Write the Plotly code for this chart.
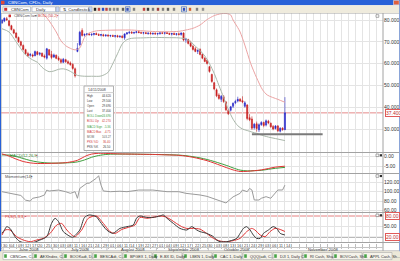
import plotly.graph_objects as go

W, H = 400, 261

# ---------------- data ----------------
bar_index = list(range(121))
opens = [78.6, 79.5, 80.6, 79.6, 77.4, 75.5, 74.0, 72.0, 70.0, 68.3,
         66.4, 64.6, 63.8, 64.0, 63.6, 65.4, 64.3, 64.8, 63.5, 62.5,
         66.4, 64.2, 63.0, 63.8, 62.6, 61.8, 60.6, 61.8, 60.9, 60.3,
         59.6, 57.6, 65.6, 68.6, 75.2, 73.0,
         73.4, 73.6, 73.2, 73.4, 73.8, 73.3, 73.0, 73.2, 72.8, 73.0,
         72.7, 72.9, 72.5, 72.8, 72.3, 72.6, 71.8, 73.6, 74.1, 74.4,
         74.0, 74.3, 74.6, 74.2, 74.0, 74.2, 73.8, 74.0, 73.7, 73.9,
         73.6, 73.8, 74.1, 73.9, 74.2, 73.8, 73.5, 73.8, 73.4, 73.7, 73.3,
         74.0, 70.8, 71.0, 69.3, 68.0, 66.8, 65.6, 66.5, 64.2, 62.4,
         61.5, 58.6, 55.0, 51.2, 48.0, 45.6, 43.6, 44.8, 42.4, 38.6,
         38.6, 40.4, 42.0, 42.8, 43.6, 43.0, 40.4, 41.0, 35.2, 34.6,
         30.6, 32.4, 29.6, 32.0, 33.0, 31.8, 33.6, 32.6, 31.2, 30.2,
         31.4, 29.0, 30.4, 29.69]
highs = [80.4, 81.2, 81.4, 80.0, 77.8, 76.0, 74.4, 72.4, 70.5, 68.8,
         66.8, 65.4, 64.8, 64.6, 66.0, 65.8, 65.3, 65.0, 64.2, 67.2,
         66.6, 65.8, 64.6, 64.2, 63.4, 62.4, 62.6, 62.2, 61.6, 61.0,
         60.2, 58.2, 69.4, 75.0, 76.2, 73.8,
         74.0, 74.2, 73.8, 74.0, 74.3, 73.9, 73.6, 73.7, 73.4, 73.5,
         73.2, 73.3, 73.1, 73.2, 72.9, 73.0, 73.9, 74.4, 74.8, 74.9,
         74.6, 74.9, 75.0, 74.7, 74.5, 74.6, 74.3, 74.5, 74.2, 74.4,
         74.1, 74.3, 74.6, 74.4, 74.6, 74.2, 74.0, 74.3, 73.9, 74.2, 74.4,
         74.4, 71.8, 71.4, 70.5, 68.4, 67.6, 66.6, 67.0, 64.6, 63.0,
         61.8, 59.0, 55.4, 51.6, 48.6, 46.4, 45.6, 45.6, 42.8, 39.2,
         40.6, 42.2, 43.4, 44.8, 44.2, 45.0, 42.8, 41.4, 36.8, 35.8,
         32.8, 33.4, 32.6, 33.6, 33.4, 34.4, 34.2, 33.0, 31.8, 31.8,
         31.8, 30.8, 30.8, 44.62]
lows = [78.2, 79.0, 79.6, 77.0, 75.2, 73.5, 71.5, 69.5, 67.8, 66.0,
        64.0, 63.0, 63.2, 62.8, 63.4, 63.8, 63.6, 63.0, 62.4, 61.8,
        63.5, 62.0, 62.6, 62.0, 61.2, 60.0, 60.2, 60.4, 59.6, 59.0,
        57.2, 53.6, 65.2, 68.2, 72.4, 72.4,
        72.8, 73.0, 72.6, 72.9, 73.1, 72.7, 72.5, 72.4, 72.3, 72.4,
        72.1, 72.2, 71.9, 72.0, 71.8, 71.6, 70.9, 73.2, 73.6, 73.8,
        73.5, 73.9, 74.0, 73.6, 73.4, 73.5, 73.2, 73.4, 73.1, 73.3,
        73.0, 73.2, 73.5, 73.3, 73.6, 73.1, 72.9, 73.2, 72.8, 73.0, 72.8,
        70.2, 69.6, 68.8, 67.5, 66.0, 65.2, 64.4, 63.8, 62.0, 60.6,
        59.6, 55.8, 51.2, 47.8, 44.6, 43.4, 42.4, 42.0, 38.2, 36.4,
        38.0, 39.6, 41.4, 42.2, 42.4, 41.8, 39.8, 34.0, 33.6, 29.6,
        29.8, 28.8, 28.6, 31.4, 30.8, 31.2, 32.2, 30.6, 29.4, 29.8,
        28.6, 28.4, 29.2, 29.5]
closes = [80.0, 80.8, 80.1, 77.5, 75.6, 74.0, 72.0, 70.0, 68.4, 66.5,
          64.6, 63.6, 64.2, 63.5, 65.5, 64.2, 64.8, 63.4, 63.0, 66.8,
          64.0, 62.8, 64.0, 62.4, 61.8, 60.6, 62.0, 60.8, 60.2, 59.5,
          57.8, 54.4, 67.0, 74.4, 72.9, 73.4,
          73.6, 73.2, 73.5, 73.8, 73.3, 73.0, 73.3, 72.8, 73.1, 72.7,
          72.9, 72.5, 72.8, 72.3, 72.6, 72.0, 73.6, 74.1, 74.4, 74.0,
          74.3, 74.6, 74.2, 74.0, 74.2, 73.8, 74.0, 73.7, 73.9, 73.6,
          73.8, 74.1, 73.9, 74.2, 73.8, 73.5, 73.8, 73.4, 73.7, 73.3, 74.0,
          70.8, 71.2, 69.2, 68.0, 66.5, 65.6, 66.0, 64.2, 62.5, 61.0,
          60.0, 56.4, 51.8, 48.4, 45.2, 44.0, 45.0, 42.6, 38.8, 37.0,
          40.2, 41.8, 42.6, 43.6, 42.8, 42.4, 42.0, 34.8, 34.2, 30.4,
          32.2, 30.2, 32.0, 33.0, 31.6, 33.8, 32.8, 31.0, 30.0, 31.4,
          29.2, 30.4, 29.7, 37.4]

boll_up_x = [0, 5, 10, 15, 19, 21, 23, 25, 27, 29, 31, 33, 34, 35, 37, 40, 45, 50, 55, 60,
             65, 70, 75, 78, 81, 84, 87, 90, 93, 95, 97, 98, 100, 101, 103, 105.5, 108, 110.5,
             112.5, 117, 120]
boll_up = [92.0, 91.0, 89.0, 85.0, 81.0, 78.0, 74.5, 70.5, 68.2, 67.0, 66.3, 67.2, 69.5, 72.0,
           74.0, 75.0, 75.3, 75.4, 75.4, 75.0, 74.7, 74.6, 74.8, 75.4, 76.2, 77.7, 80.2, 82.0,
           82.9, 83.0, 82.3, 80.0, 76.5, 74.5, 68.5, 60.0, 53.5, 48.0, 45.6, 43.6, 42.27]
boll_dn_x = [0, 3, 6, 10, 13, 15, 17.5, 20, 22, 24, 26, 28, 30, 32, 35, 38, 42, 45, 47, 49,
             51, 53, 55, 60, 65, 70, 75, 78, 80, 82, 84, 86, 88, 90, 92, 94, 96, 98, 100, 102,
             104, 106, 108, 110, 113, 116, 120]
boll_dn = [76.0, 74.5, 70.0, 64.0, 61.7, 60.6, 57.8, 56.3, 56.6, 57.4, 57.6, 57.0, 55.8, 54.6,
           54.2, 54.2, 54.3, 56.0, 60.0, 64.5, 69.0, 71.0, 71.6, 71.8, 72.0, 71.9, 71.8, 71.3,
           70.0, 68.0, 66.0, 63.5, 60.0, 55.5, 50.0, 44.5, 39.0, 34.5, 31.5, 30.0, 29.3, 28.6,
           28.0, 27.2, 26.3, 25.6, 24.69]

macd_x = [0, 3, 6, 9, 12, 15, 18, 21, 24, 27, 30, 32, 34, 36, 38, 41, 45, 50, 55, 60, 65, 70,
          75, 78, 81, 84, 87, 90, 93, 96, 98, 101, 104, 107, 110, 113, 116, 120]
macd_base = [1.4, 0.3, -1.2, -2.4, -3.1, -3.4, -3.4, -3.3, -3.2, -3.0, -2.4, -1.8, -0.6, 0.6,
             1.3, 1.7, 1.6, 1.4, 1.3, 1.2, 1.1, 0.9, 0.7, 0.3, -0.3, -1.1, -2.0, -3.2, -4.5,
             -5.8, -6.6, -7.4, -7.3, -7.0, -6.6, -5.9, -5.2, -4.75]
macd_signal = [0.9, 0.8, 0.1, -0.9, -1.9, -2.6, -3.0, -3.2, -3.2, -3.1, -2.9, -2.6, -2.0, -1.2,
               -0.3, 0.6, 1.2, 1.3, 1.3, 1.2, 1.1, 1.0, 0.8, 0.5, 0.0, -0.6, -1.4, -2.4, -3.5,
               -4.7, -5.6, -6.7, -7.1, -7.0, -6.8, -6.3, -5.8, -5.36]

mom_x = [0, 3, 6, 8, 10, 12, 13, 16, 18, 19, 20, 24, 27, 29, 31, 32, 33, 36, 37, 39, 40, 41,
         42, 43, 46, 50, 53, 58, 64, 70, 75, 78, 81, 84, 87, 90, 93, 95, 98, 101, 102, 104,
         105, 106, 107, 109, 110, 112, 114, 116, 117, 119, 120]
mom = [100.0, 97.0, 95.0, 92.0, 82.0, 80.0, 86.0, 89.0, 93.0, 103.5, 101.5, 103.5, 100.0, 96.5,
       100.0, 86.0, 107.0, 118.0, 118.0, 125.0, 128.5, 134.0, 114.0, 101.5, 100.0, 101.0, 100.0,
       103.5, 103.5, 100.0, 100.0, 96.5, 95.0, 93.0, 90.0, 85.0, 79.0, 76.0, 89.0, 96.5, 103.6,
       100.0, 107.0, 103.6, 82.3, 82.3, 86.0, 89.4, 86.0, 96.5, 103.6, 103.6, 114.0]

stoch_k_x = [0, 1, 2, 3.4, 5.5, 7.6, 12, 16, 19, 21, 22.5, 24, 26, 29, 30, 33, 35, 37, 40, 41.6,
             44.4, 47, 50, 53, 55.7, 57, 58.5, 61.4, 64, 67, 68.4, 70, 72.7, 75.5, 78.4, 80.5,
             82.6, 84, 86.8, 89.7, 91, 92.5, 95.3, 98, 99.6, 101, 102.4, 103.8, 105.2, 106.6,
             108, 109.5, 110.9, 113, 115, 116.5, 118, 120]
stoch_k = [31, 40, 50, 45, 22, 8, 3, 12, 22, 59, 73.5, 64, 36, 22, 20, 40.6, 76, 83, 78, 64,
           40.6, 31, 45, 50, 54.6, 73.5, 80, 76, 76, 80, 83, 73.5, 59, 45, 40.6, 50, 40.6, 36,
           31, 21.7, 12.4, 7.6, 7.6, 12.4, 17, 31, 45, 50, 40.6, 26.5, 17, 17, 31, 40.6, 50, 45,
           31, 26.5]
stoch_d_x = [0, 1.3, 3.4, 6.2, 9, 12, 14.7, 17.5, 20.4, 23.2, 25.3, 27.5, 29.6, 31, 33.8, 36.6,
             40, 43, 45.8, 48, 50.8, 53.6, 56.4, 58.5, 61.4, 64, 67, 69.2, 71.3, 74, 76.2, 78.4,
             81.2, 84, 86.8, 89.7, 92.5, 95.3, 98, 101, 103.8, 105.9, 107.3, 109.5, 111.6, 113.7,
             115.8, 118, 120]
stoch_d = [26.5, 40.6, 40.6, 21.7, 12.4, 7.6, 12.4, 17, 31, 54.6, 59, 40.6, 26.5, 21.7, 40.6,
           73.5, 80, 59, 36, 31, 42, 48, 54.6, 76, 73.5, 76, 80, 78, 71, 59, 50, 45, 45, 43, 31,
           17, 9.5, 7.6, 10.5, 17, 36, 45, 40.6, 26.5, 21.7, 36, 45, 42, 36.4]

day_tick_idx = list(range(0, 121, 3))
day_labels = ["30", "04", "09", "12", "17", "20", "25", "30", "03", "08", "11", "16", "21", "24",
              "29", "01", "06", "11", "14", "19", "22", "27", "01", "04", "09", "12", "17", "22",
              "25", "30", "03", "08", "13", "16", "21", "24", "29", "03", "06", "11", "14"]
month_names = ["June 2008", "July 2008", "August 2008", "September 2008", "October 2008",
               "November 2008"]
month_start_idx = [1, 22, 45, 66, 88, 111]

price_ticks = [30, 40, 50, 60, 70, 80]
macd_ticks = [0, -5]
mom_ticks = [60, 80, 100, 120]
stoch_levels = [80, 20]

support_level = 27.6
support_span = [106, 136]

tab_labels = ["CBNCom, C...", "AEXIndex, C...", "BOOKadt, D...", "BESCAdt, C...",
              "BPGEX 1, Daily", "E-BX ID, Daily", "LBKN 1, Daily", "CAC 1, Daily",
              "QQQ(adt, C...", "DJI 1, Daily C", "RI Cash, Sha...", "BOVCash, Sh...",
              "APPL Cash, Sh..."]

info_date = "14/11/2008"
info_extra = [("BOLL Down", boll_dn[-1], "{:.3f}", "#3f9f3f"),
              ("BOLL Up", boll_up[-1], "{:.3f}", "#d03a3a"),
              ("MACD Sign", macd_signal[-1], "{:.2f}", "#3f9f3f"),
              ("MACD Bas", macd_base[-1], "{:.2f}", "#d03a3a"),
              ("MOM", 103.27, "{:.2f}", "#606060"),
              ("PKS %D", stoch_d[-1], "{:.2f}", "#d03a3a"),
              ("PKS %K", stoch_k[-1], "{:.2f}", "#404040")]

# ---------------- layout helpers ----------------
FONT = "Liberation Sans"


def fx(p):
    return p / W


def fy(p):
    return 1 - p / H


PL, PR = 1, 383
PANELS = [(13, 152.5), (152.5, 173), (173.5, 212), (212.5, 242.5)]
XR = [-0.42, 161.6]
grid_vals = list(range(0, 162, 3))

fig = go.Figure()

# Bollinger
fig.add_trace(go.Scatter(x=boll_up_x, y=boll_up, mode="lines", xaxis="x", yaxis="y",
                         line=dict(color="#eba3a3", width=1, shape="spline", smoothing=0.8),
                         hoverinfo="skip"))
fig.add_trace(go.Scatter(x=boll_dn_x, y=boll_dn, mode="lines", xaxis="x", yaxis="y",
                         line=dict(color="#a9b6a9", width=1, shape="spline", smoothing=0.8),
                         hoverinfo="skip"))
# candles
fig.add_trace(go.Candlestick(x=bar_index, open=opens, high=highs, low=lows, close=closes,
                             xaxis="x", yaxis="y", whiskerwidth=0,
                             increasing=dict(line=dict(color="#2a2ac4", width=0.6),
                                             fillcolor="#2a2ad4"),
                             decreasing=dict(line=dict(color="#c42020", width=0.6),
                                             fillcolor="#d02222")))
# MACD
fig.add_trace(go.Scatter(x=macd_x, y=macd_signal, mode="lines", xaxis="x2", yaxis="y2",
                         line=dict(color="#3c9c3c", width=1, shape="spline", smoothing=0.8)))
fig.add_trace(go.Scatter(x=macd_x, y=macd_base, mode="lines", xaxis="x2", yaxis="y2",
                         line=dict(color="#e03434", width=1, shape="spline", smoothing=0.8)))
# Momentum
fig.add_trace(go.Scatter(x=mom_x, y=mom, mode="lines", xaxis="x3", yaxis="y3",
                         line=dict(color="#9a9a9a", width=1)))
# Stochastic
fig.add_trace(go.Scatter(x=stoch_d_x, y=stoch_d, mode="lines", xaxis="x4", yaxis="y4",
                         line=dict(color="#e03434", width=1, shape="spline", smoothing=0.7)))
fig.add_trace(go.Scatter(x=stoch_k_x, y=stoch_k, mode="lines", xaxis="x4", yaxis="y4",
                         line=dict(color="#3a3a3a", width=1, shape="spline", smoothing=0.7)))

common_x = dict(range=XR, tickvals=grid_vals, showticklabels=False, showgrid=True,
                gridcolor="#e4e4e4", gridwidth=1, zeroline=False, showline=False,
                domain=[fx(PL), fx(PR)], fixedrange=True)


def yax(i, rng, vals, texts):
    t, b = PANELS[i]
    return dict(domain=[fy(b), fy(t)], range=rng, side="right", anchor="x" if i == 0 else f"x{i+1}",
                tickvals=vals, ticktext=texts, showgrid=True, gridcolor="#e4e4e4",
                zeroline=False, ticks="", showline=False, fixedrange=True,
                tickfont=dict(size=5, color="#333333", family=FONT))


layout = dict(
    width=W, height=H, margin=dict(l=0, r=0, t=0, b=0), showlegend=False,
    paper_bgcolor="white", plot_bgcolor="white", font=dict(family=FONT, size=5),
    xaxis=dict(common_x, anchor="y", ticks="", rangeslider=dict(visible=False)),
    xaxis2=dict(common_x, anchor="y2", ticks="", matches="x"),
    xaxis3=dict(common_x, anchor="y3", ticks="", matches="x"),
    xaxis4=dict(common_x, anchor="y4", matches="x", ticks="outside", ticklen=5,
                tickcolor="#bdbdbd", tickwidth=1),
    yaxis=yax(0, [19.22, 83.21], price_ticks, [f"{v:.3f}" for v in price_ticks]),
    yaxis2=yax(1, [-8.15, 2.1], macd_ticks, [f"{v:.2f}" for v in macd_ticks]),
    yaxis3=yax(2, [56.8, 138.7], mom_ticks, [f"{v:.2f}" for v in mom_ticks]),
    yaxis4=yax(3, [5.35, 89.86], [50], ["50.00"]),
)
fig.update_layout(**layout)

shapes = []
ann = []


def rect(x0, y0, x1, y1, fill, line="rgba(0,0,0,0)", lw=0, layer="above"):
    shapes.append(dict(type="rect", xref="paper", yref="paper", x0=fx(x0), x1=fx(x1),
                       y0=fy(y1), y1=fy(y0), fillcolor=fill, line=dict(color=line, width=lw),
                       layer=layer))


def hline(x0, x1, y, color, w=1, layer="above"):
    shapes.append(dict(type="line", xref="paper", yref="paper", x0=fx(x0), x1=fx(x1),
                       y0=fy(y), y1=fy(y), line=dict(color=color, width=w), layer=layer))


def vline(x, y0, y1, color, w=1, layer="above"):
    shapes.append(dict(type="line", xref="paper", yref="paper", x0=fx(x), x1=fx(x),
                       y0=fy(y0), y1=fy(y1), line=dict(color=color, width=w), layer=layer))


def text(x, y, s, color="#333333", size=4.6, anchor="left"):
    ann.append(dict(x=fx(x), y=fy(y), xref="paper", yref="paper", text=s, showarrow=False,
                    xanchor=anchor, yanchor="middle",
                    font=dict(size=size, color=color, family=FONT)))


# last price line & stochastic levels & support line
shapes.append(dict(type="line", xref="paper", yref="y", x0=fx(PL), x1=fx(PR), y0=closes[-1],
                   y1=closes[-1], line=dict(color="#e58a8a", width=1), layer="between"))
for lv, col in zip(stoch_levels, ["#e58080", "#a8a8a8"]):
    shapes.append(dict(type="line", xref="paper", yref="y4", x0=fx(PL), x1=fx(PR), y0=lv, y1=lv,
                       line=dict(color=col, width=1), layer="between"))
shapes.append(dict(type="line", xref="x", yref="y", x0=support_span[0], x1=support_span[1],
                   y0=support_level, y1=support_level, line=dict(color="#7a7a7a", width=2),
                   layer="above"))

# panel frames
for t, b in PANELS:
    hline(0, 399, t, "#a2a2a2")
hline(0, 399, 242.5, "#a2a2a2")
vline(PR, 13, 251, "#a2a2a2")
vline(1, 13, 251, "#a2a2a2")
# date rows
hline(1, PR, 247.5, "#c4c4c4")
hline(0, 399, 251, "#a2a2a2")
for t, lab in zip(day_tick_idx, day_labels):
    ann.append(dict(x=t + 1.5, y=fy(245.1), xref="x4", yref="paper", text=lab, showarrow=False,
                    xanchor="center", yanchor="middle",
                    font=dict(size=3.9, color="#444444", family=FONT)))
month_ends = month_start_idx[1:] + [XR[1]]
for name, s, e in zip(month_names, month_start_idx, month_ends):
    ann.append(dict(x=(s + e) / 2, y=fy(249.3), xref="x4", yref="paper", text=name,
                    showarrow=False, xanchor="center", yanchor="middle",
                    font=dict(size=4.2, color="#444444", family=FONT)))
    shapes.append(dict(type="line", xref="x4", yref="paper", x0=s - 0.5, x1=s - 0.5,
                       y0=fy(251), y1=fy(247.5), line=dict(color="#c4c4c4", width=1)))

# right-axis boxed labels
ann.append(dict(x=fx(384.5), y=closes[-1], xref="paper", yref="y", text=f"{closes[-1]:.3f}",
                showarrow=False, xanchor="left", yanchor="middle", bgcolor="white",
                bordercolor="#e05a5a", borderwidth=1, borderpad=0,
                font=dict(size=5, color="#c03030", family=FONT)))
for lv in stoch_levels:
    ann.append(dict(x=fx(384.5), y=lv, xref="paper", yref="y4", text=f"{lv:.2f}",
                    showarrow=False, xanchor="left", yanchor="middle", bgcolor="white",
                    bordercolor="#e05a5a", borderwidth=1, borderpad=0,
                    font=dict(size=5, color="#c03030", family=FONT)))

# window chrome: title bar
rect(0, 0, 400, 5.2, "#2861d8")
rect(1, 0.8, 4.5, 4.4, "#e04a3a")
text(6, 2.7, "CBNCom, CFDs, Daily", "white", 4.4)
rect(393.5, 0.4, 399.2, 4.8, "#e0603e", "#ffffff", 0.5)
# toolbar
rect(0, 5.2, 400, 13, "#efebdd")
rect(3, 6.8, 30.5, 11.8, "white", "#9aa6bd", 0.6)
rect(4.2, 7.8, 7.2, 10.8, "#d03030")
text(8.5, 9.3, "CBNCom", "#303030", 4.2)
rect(32, 6.8, 55.5, 11.8, "white", "#9aa6bd", 0.6)
text(34, 9.3, "Daily", "#303030", 4.2)
rect(56, 6.8, 59, 11.8, "#c9d8f4", "#9aa6bd", 0.6)
rect(60, 6.8, 88.5, 11.8, "white", "#9aa6bd", 0.6)
text(61, 9.3, "⇅  Candlestick", "#303030", 4.2)
rect(89, 6.8, 92, 11.8, "#c9d8f4", "#9aa6bd", 0.6)
tool_icons = [(95, "#202020"), (99, "#c04040"), (103, "#3050c0"), (106.5, "#c04040"),
              (110, "#808080"), (114, "#909090"), (117.5, "#808080"), (123, "#606060"),
              (127.5, "#3050c0"), (134, "#808080"), (144, "#c04040"), (148, "#404040"),
              (153, "#808080"), (158, "#a04040"), (163, "#808080"), (168, "#606060"),
              (174, "#808080"), (184, "#3050c0"), (190, "#d06030"), (197, "#808080"),
              (203, "#909090")]
for xi, col in tool_icons:
    rect(xi - 1.2, 7.8, xi + 1.2, 10.8, col)
rect(125.5, 6.7, 130, 11.9, "rgba(0,0,0,0)", "#3060c0", 0.6)
rect(181.5, 6.7, 186.5, 11.9, "rgba(0,0,0,0)", "#3060c0", 0.6)
# window borders
vline(0.5, 0, 261, "#2861d8", 1)
vline(399.5, 5, 261, "#8aa4d8", 1)

# panel legends
rect(8.5, 14.6, 11, 17.2, "#d03030")
text(12, 16.2, "CBNCom last", "#555555", 3.8)
text(33, 16.2, "▪", "#404040", 3.8)
text(36, 16.2, "BOLL(50,2)", "#d04040", 3.8)
text(55, 16.2, "▪", "#d04040", 3.8)
text(8, 155.6, "MACD(12,26,9)", "#3a8a3a", 4.0)
text(34, 155.6, "▪", "#d04040", 4.0)
text(3, 176.8, "Momentum(14)", "#505050", 4.0)
text(29, 176.8, "▪", "#404040", 4.0)
text(3, 216.2, "PKS(5,3,3)", "#d04040", 4.0)
text(23, 216.2, "▪", "#d04040", 4.0)
# panel buttons
for yb in [16, 155.3, 176, 215.3]:
    rect(376, yb - 1.3, 378.8, yb + 1.3, "white", "#707070", 0.6)
for yb in [155.3, 176, 215.3]:
    rect(379.8, yb - 1.1, 382, yb + 1.1, "#303030")

# info box
rect(84, 86, 113.5, 150.5, "white", "#b0b0b0", 1)
text(86, 90.3, info_date, "#404040", 3.6)
hline(84, 113.5, 92.6, "#d0d0d0")
rows = [("High", f"{highs[-1]:.3f}", "#404040"), ("Low", f"{lows[-1]:.3f}", "#404040"),
        ("Open", f"{opens[-1]:.3f}", "#404040"), ("Last", f"{closes[-1]:.3f}", "#404040")]
rows += [(n, f.format(v), c) for n, v, f, c in info_extra]
for k, (n, v, c) in enumerate(rows):
    yy = 96 + 5.1 * k
    text(85, yy, n, c, 2.9)
    text(113, yy, v, c, 2.9, anchor="right")

# tab bar
rect(0, 251.3, 400, 261, "#ece9d8")
for k, lab in enumerate(tab_labels):
    x0 = 3 + 30 * k
    rect(x0, 252.5, x0 + 29, 259.6, "white" if k == 0 else "#f5f3ea", "#a9a9a9", 0.6)
    rect(x0 + 1.2, 254.3, x0 + 3.8, 257.8, "#47a447")
    text(x0 + 4.8, 256.1, lab, "#303030", 3.9)

fig.update_layout(shapes=shapes, annotations=ann)
fig.write_html("out.html")
